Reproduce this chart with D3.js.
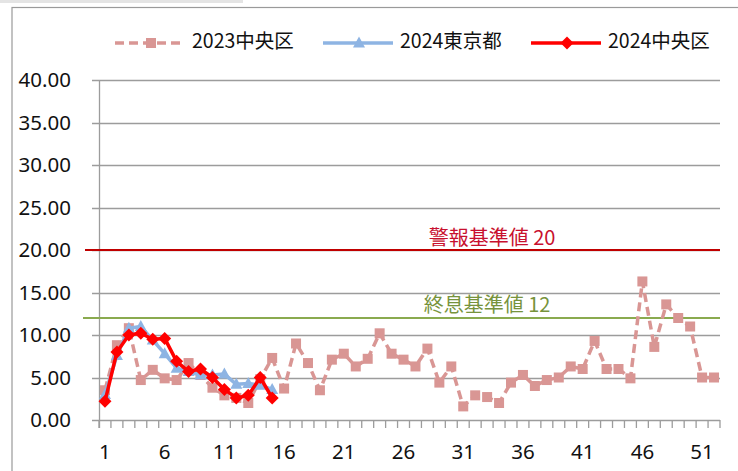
<!DOCTYPE html>
<html>
<head>
<meta charset="utf-8">
<script src="https://cdn.jsdelivr.net/npm/d3@7"></script>
<style>
  body { margin: 0; background: #fff; }
  svg { display: block; }
</style>
</head>
<body>
<svg id="chart" width="738" height="471"></svg>
<script>
const weeks = d3.range(1, 53);

const chuo2023 = [3.5, 8.8, 10.8, 4.7, 5.9, 4.9, 4.7, 6.7, 5.3, 3.8,
  2.9, 2.6, 2.0, 4.8, 7.3, 3.7, 9.0, 6.7, 3.5, 7.1,
  7.8, 6.3, 7.2, 10.2, 7.8, 7.1, 6.3, 8.4, 4.4, 6.3,
  1.6, 2.9, 2.7, 2.0, 4.4, 5.3, 4.0, 4.7, 5.0, 6.3,
  6.0, 9.3, 6.0, 6.0, 4.9, 16.3, 8.6, 13.6, 12.0, 11.0,
  5.0, 5.0];
const tokyo2024 = [3.0, 7.6, 10.8, 11.0, 9.4, 7.8, 6.1, 5.7, 5.3, 5.3,
  5.4, 4.2, 4.3, 4.1, 3.6];
const chuo2024 = [2.2, 8.0, 10.0, 10.2, 9.5, 9.6, 6.9, 5.7, 6.0, 5.0,
  3.6, 2.6, 2.9, 5.0, 2.6];

const yTicks = [0, 5, 10, 15, 20, 25, 30, 35, 40];
const xLabels = [1, 6, 11, 16, 21, 26, 31, 36, 41, 46, 51];

const warnLevel = 20;
const endLevel = 12;

const series = [
  { name: '2023中央区', values: chuo2023, color: '#d99694', dash: '9,5', marker: 'square' },
  { name: '2024東京都', values: tokyo2024, color: '#8eb4e3', dash: null, marker: 'triangle' },
  { name: '2024中央区', values: chuo2024, color: '#ff0000', dash: null, marker: 'diamond' }
];

const svg = d3.select('#chart');
const font = '"Noto Sans CJK JP", "Noto Sans", sans-serif';

// outer frame, like the Excel chart area
svg.append('rect').attr('x', 0).attr('y', 0).attr('width', 243).attr('height', 3)
  .attr('fill', '#e4e4e4');
svg.append('rect').attr('x', 12).attr('y', 7.5).attr('width', 740).attr('height', 480)
  .attr('fill', 'none').attr('stroke', '#9a9a9a').attr('stroke-width', 1.2);

const x = d3.scaleBand().domain(weeks).range([99, 720]).paddingInner(0).paddingOuter(0);
const y = d3.scaleLinear().domain([0, 40]).range([420, 80]);
const cx = w => x(w) + x.bandwidth() / 2;

// horizontal gridlines
svg.append('g')
  .selectAll('line')
  .data(yTicks)
  .join('line')
  .attr('x1', 92).attr('x2', 720)
  .attr('y1', d => Math.round(y(d)) + 0.5).attr('y2', d => Math.round(y(d)) + 0.5)
  .attr('stroke', '#9c9c9c').attr('stroke-width', 1.3);

// y axis labels
const yAxis = svg.append('g')
  .attr('transform', 'translate(99,0)')
  .call(d3.axisLeft(y).tickValues(yTicks).tickFormat(d3.format('.2f')).tickSize(0).tickPadding(28));
yAxis.select('.domain').remove();
yAxis.selectAll('text').attr('font-family', '"Noto Sans", sans-serif').attr('font-size', 20.5).attr('fill', '#111');

// y axis line
svg.append('line').attr('x1', 99.5).attr('x2', 99.5).attr('y1', 80).attr('y2', 428)
  .attr('stroke', '#9c9c9c').attr('stroke-width', 1.3);

// x axis boundary ticks
svg.append('g')
  .selectAll('line')
  .data(weeks.concat([53]))
  .join('line')
  .attr('x1', w => w === 53 ? 720 : x(w)).attr('x2', w => w === 53 ? 720 : x(w))
  .attr('y1', 420).attr('y2', 428)
  .attr('stroke', '#9c9c9c').attr('stroke-width', 1.3);

// x labels
const xAxis = svg.append('g')
  .attr('transform', 'translate(0,420)')
  .call(d3.axisBottom(x).tickValues(xLabels).tickSize(0).tickPadding(24));
xAxis.select('.domain').remove();
xAxis.selectAll('text').attr('font-family', '"Noto Sans", sans-serif').attr('font-size', 20.5).attr('fill', '#111');

// reference lines
svg.append('line').attr('x1', 85).attr('x2', 720).attr('y1', y(warnLevel)).attr('y2', y(warnLevel))
  .attr('stroke', '#c00000').attr('stroke-width', 2);
svg.append('line').attr('x1', 83).attr('x2', 720).attr('y1', y(endLevel)).attr('y2', y(endLevel))
  .attr('stroke', '#8aaa4f').attr('stroke-width', 2);
svg.append('text').attr('x', 492).attr('y', y(warnLevel) - 10).attr('text-anchor', 'middle')
  .attr('dominant-baseline', 'middle')
  .attr('font-family', font).attr('font-size', 20).attr('fill', '#c8102e')
  .text('警報基準値 ' + warnLevel);
svg.append('text').attr('x', 487).attr('y', y(endLevel) - 11).attr('text-anchor', 'middle')
  .attr('dominant-baseline', 'middle')
  .attr('font-family', font).attr('font-size', 20).attr('fill', '#77933c')
  .text('終息基準値 ' + endLevel);

function drawMarker(g, type, px, py, color) {
  if (type === 'square') {
    g.append('rect').attr('x', px - 5).attr('y', py - 5).attr('width', 10).attr('height', 10).attr('fill', color);
  } else if (type === 'triangle') {
    g.append('path').attr('d', `M${px},${py - 6.5}L${px + 6},${py + 4.5}L${px - 6},${py + 4.5}Z`).attr('fill', color);
  } else {
    g.append('path').attr('d', `M${px},${py - 6.5}L${px + 6.5},${py}L${px},${py + 6.5}L${px - 6.5},${py}Z`).attr('fill', color);
  }
}

const line = d3.line().x((d, i) => cx(weeks[i])).y(d => y(d));

series.forEach(s => {
  const g = svg.append('g');
  g.append('path')
    .attr('d', line(s.values))
    .attr('fill', 'none')
    .attr('stroke', s.color)
    .attr('stroke-width', 3.5)
    .attr('stroke-dasharray', s.dash)
    .attr('stroke-linejoin', 'round');
  s.values.forEach((v, i) => drawMarker(g, s.marker, cx(weeks[i]), y(v), s.color));
});

// legend
const legendX = [115, 323, 531];
series.forEach((s, i) => {
  const g = svg.append('g');
  const lx = legendX[i], ly = 43;
  g.append('line').attr('x1', lx).attr('x2', lx + 70).attr('y1', ly).attr('y2', ly)
    .attr('stroke', s.color).attr('stroke-width', 3.5)
    .attr('stroke-dasharray', s.dash);
  drawMarker(g, s.marker, lx + 36, ly, s.color);
  g.append('text').attr('x', lx + 77).attr('y', ly).attr('dominant-baseline', 'middle')
    .attr('font-family', font).attr('font-size', 19.5).attr('fill', '#111')
    .text(s.name);
});
</script>
</body>
</html>
